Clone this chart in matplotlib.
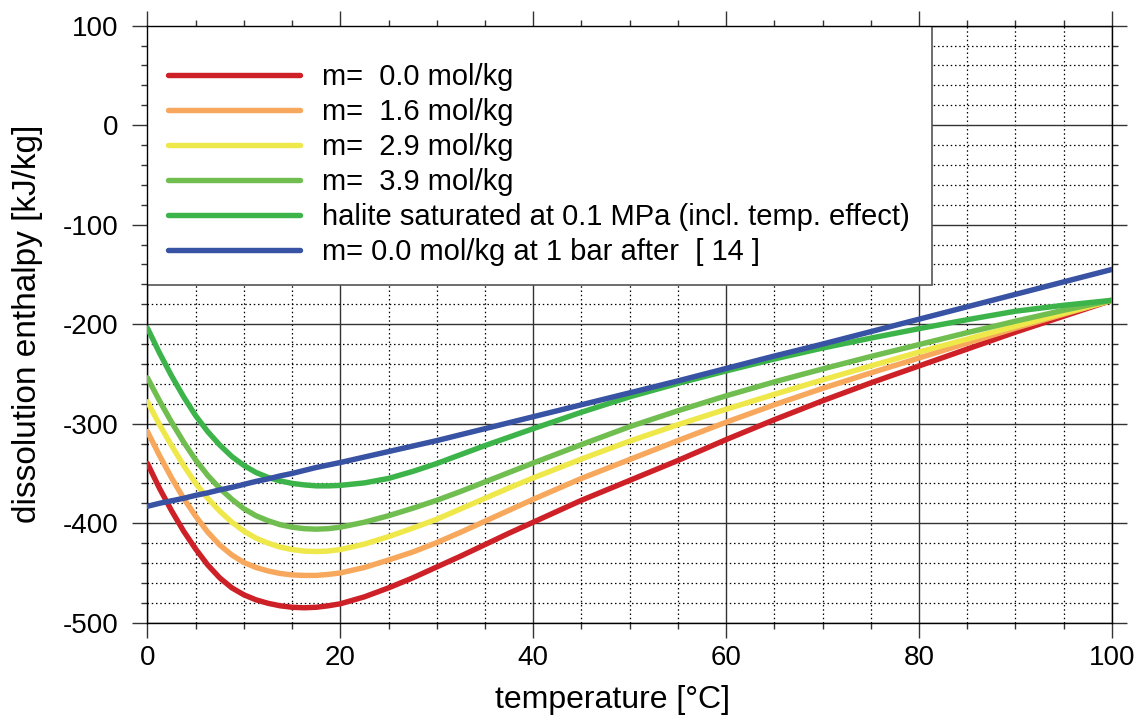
import matplotlib
matplotlib.use("Agg")
import matplotlib.pyplot as plt
from matplotlib.patches import Rectangle
from matplotlib.ticker import MultipleLocator

plt.rcParams['font.family'] = ['Liberation Sans', 'DejaVu Sans']
plt.rcParams['axes.unicode_minus'] = False

temperature = [0, 1.25, 2.5, 3.75, 5, 6.25, 7.5, 8.75, 10, 11.25, 12.5, 13.75, 15,
               16.25, 17.5, 18.75, 20,
               22.5, 25, 27.5, 30, 32.5, 35, 37.5, 40,
               45, 50, 55, 60, 65, 70, 75, 80, 85, 90, 95, 100]

m_00 = [-340, -365, -387.5, -408, -426, -442, -455, -465, -472, -477, -480.5, -483,
        -484.5, -485, -484.5, -483, -481,
        -474, -465, -455, -444, -433, -421.5, -410, -399,
        -377, -357, -337, -316, -296, -277, -259, -242, -225, -208, -192, -176]
m_16 = [-308, -332, -354.5, -375, -393, -409, -422, -432, -439.5, -444.5, -448, -450.5,
        -452, -452.5, -452.5, -451.5, -450,
        -444.5, -437, -429, -419.5, -409, -398, -387, -376,
        -355, -336, -317, -298.5, -281, -264.5, -249, -234, -219, -204, -190, -176]
m_29 = [-278, -301, -322, -342, -360, -375, -388, -399, -408, -415, -420, -424,
        -426.5, -428, -428.5, -428, -426.5,
        -421, -413.5, -405, -396, -385.5, -375, -364.5, -354.5,
        -335.5, -317.5, -301, -285.5, -270.5, -256, -242, -228, -215, -202, -189, -176]
m_39 = [-254, -277, -298.5, -318.5, -336.5, -352, -365, -376, -385.5, -392.5, -397.5,
        -401.5, -404, -405.5, -406, -405.5, -404,
        -399, -392.5, -385, -377, -368, -358.5, -349, -339.5,
        -321, -303, -287, -272, -258, -245, -232.5, -220.5, -208.5, -197, -186, -176]
halite_sat = [-204, -229, -252, -273, -292, -308, -321.5, -333, -342, -349, -354, -357.5,
              -360, -361.5, -362.5, -362.5, -362,
              -359.5, -355, -348, -340, -331, -322, -313.5, -305,
              -288.5, -273, -259.5, -247, -235, -224, -214, -204.5, -195.5, -187, -181, -176]
m_00_1bar = [-383, -380, -377.5, -375, -372, -369.5, -366.5, -364, -361, -358, -355.5,
             -352.5, -350, -347, -344, -341.5, -339,
             -333.5, -328, -322.5, -317, -311, -305, -299, -293,
             -281, -269, -257, -244.5, -232, -220, -207.5, -195, -182.5, -170, -157.5, -145]

series = [m_00, m_16, m_29, m_39, halite_sat, m_00_1bar]
labels = ["m=  0.0 mol/kg", "m=  1.6 mol/kg", "m=  2.9 mol/kg", "m=  3.9 mol/kg",
          "halite saturated at 0.1 MPa (incl. temp. effect)",
          "m= 0.0 mol/kg at 1 bar after  [ 14 ]"]
colors = ["#CE2027", "#F7A85C", "#EFE84A", "#70BE50", "#3CB44A", "#3852A4"]

fig = plt.figure(figsize=(11.44, 7.15), dpi=100)
ax = fig.add_axes([0.1289, 0.1291, 0.843, 0.835])

for y, lab, c in zip(series, labels, colors):
    ax.plot(temperature, y, color=c, lw=3.9, label=lab, solid_capstyle='round',
            solid_joinstyle='round', zorder=3)

ax.set_xlim(0, 100)
ax.set_ylim(-500, 100)
ax.xaxis.set_major_locator(MultipleLocator(20))
ax.xaxis.set_minor_locator(MultipleLocator(5))
ax.yaxis.set_major_locator(MultipleLocator(100))
ax.yaxis.set_minor_locator(MultipleLocator(20))

ax.set_axisbelow(True)
ax.grid(which='major', color='#333333', lw=1.0, ls='-')
ax.grid(which='minor', color='black', lw=0.9, ls=(0, (1.2, 2.2)))

ax.tick_params(which='both', direction='out', top=True, right=True,
               width=1.0, color='#333333', labelsize=20)
ax.tick_params(which='major', length=10.8)
ax.tick_params(which='minor', length=4.5)
ax.tick_params(axis='y', which='major', pad=10)
ax.tick_params(axis='x', which='major', pad=5)
for s in ax.spines.values():
    s.set_linewidth(1.0)
    s.set_color('black')

ax.set_xlabel("temperature [°C]", fontsize=23)
ax.xaxis.set_label_coords(0.4817, -0.105)
ax.set_ylabel("dissolution enthalpy [kJ/kg]", fontsize=24)
ax.yaxis.set_label_coords(-0.108, 0.5)

rect = Rectangle((0, 0.5657), 0.814, 0.4343, transform=ax.transAxes,
                 facecolor='white', edgecolor='#555555', lw=1.2, zorder=2.5)
ax.add_patch(rect)

leg = ax.legend(loc='upper left', bbox_to_anchor=(0.0213, 0.9377), frameon=False,
                fontsize=21, handlelength=4.52, handletextpad=0.75,
                labelspacing=0.24, borderpad=0, borderaxespad=0)
leg.set_zorder(5)

fig.savefig("out.png", dpi=100)
